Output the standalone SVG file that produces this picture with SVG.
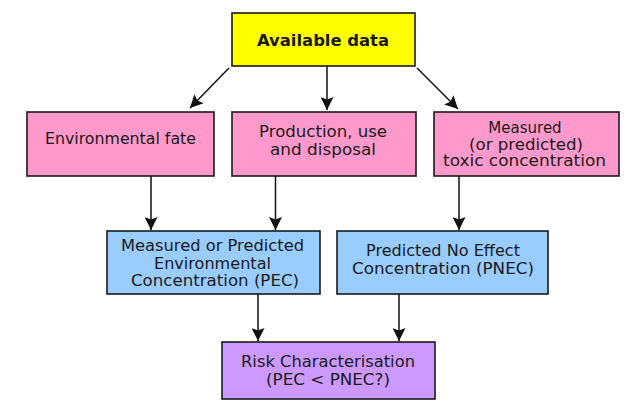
<svg xmlns="http://www.w3.org/2000/svg" width="624" height="401" viewBox="0 0 624 401">
<style>
.box{stroke:#1a1a1a;stroke-width:1.6}
.y{fill:#ffff00}
.p{fill:#ff99cc}
.b{fill:#99ccff}
.v{fill:#cc99ff}
text{font-family:"DejaVu Sans","Verdana",sans-serif;font-size:15px;fill:#1a1a1a;text-anchor:middle}
.bold{font-weight:bold;font-size:16px}
.conn line{stroke:#111;stroke-width:1.5;marker-end:url(#ah)}
</style>
<defs>
<marker id="ah" markerUnits="userSpaceOnUse" markerWidth="14" markerHeight="13" viewBox="0 0 14 13" refX="13" refY="6.5" orient="auto">
<path d="M0,0 L13,6.5 L0,13 L2.5,6.5 Z" fill="#111"/>
</marker>
</defs>
<rect width="624" height="401" fill="#ffffff"/>
<g id="available">
<rect class="box y" x="232" y="13" width="183" height="53"/>
<text class="bold" x="323" y="46" textLength="132" lengthAdjust="spacingAndGlyphs">Available data</text>
</g>
<g id="envfate">
<rect class="box p" x="27" y="112" width="187" height="64"/>
<text x="120.5" y="144" textLength="151" lengthAdjust="spacingAndGlyphs">Environmental fate</text>
</g>
<g id="production">
<rect class="box p" x="232" y="112" width="184" height="64"/>
<text x="323" y="137" textLength="128" lengthAdjust="spacingAndGlyphs">Production, use</text>
<text x="323" y="155" textLength="106" lengthAdjust="spacingAndGlyphs">and disposal</text>
</g>
<g id="toxic">
<rect class="box p" x="434" y="112" width="185" height="64"/>
<text x="525" y="133">Measured</text>
<text x="526" y="149.5" textLength="114" lengthAdjust="spacingAndGlyphs">(or predicted)</text>
<text x="524.5" y="166" textLength="163" lengthAdjust="spacingAndGlyphs">toxic  concentration</text>
</g>
<g id="pec">
<rect class="box b" x="107" y="231" width="213" height="63"/>
<text x="212.5" y="251" textLength="183" lengthAdjust="spacingAndGlyphs">Measured or Predicted</text>
<text x="212.5" y="269" textLength="117" lengthAdjust="spacingAndGlyphs">Environmental</text>
<text x="215" y="286" textLength="168" lengthAdjust="spacingAndGlyphs">Concentration (PEC)</text>
</g>
<g id="pnec">
<rect class="box b" x="337" y="231" width="211" height="63"/>
<text x="443" y="256" textLength="154" lengthAdjust="spacingAndGlyphs">Predicted No Effect</text>
<text x="443" y="274" textLength="182" lengthAdjust="spacingAndGlyphs">Concentration (PNEC)</text>
</g>
<g id="risk">
<rect class="box v" x="222" y="342" width="213" height="57"/>
<text x="328" y="367" textLength="174" lengthAdjust="spacingAndGlyphs">Risk Characterisation</text>
<text x="328" y="385" textLength="124" lengthAdjust="spacingAndGlyphs">(PEC &lt; PNEC?)</text>
</g>
<g id="connectors" class="conn">
<line x1="229" y1="68" x2="190" y2="108"/>
<line x1="327" y1="66" x2="327" y2="110"/>
<line x1="417" y1="68" x2="458" y2="109"/>
<line x1="151" y1="176" x2="151" y2="230"/>
<line x1="275.5" y1="176" x2="275.5" y2="230"/>
<line x1="459" y1="176" x2="459" y2="230"/>
<line x1="258" y1="294" x2="258" y2="341"/>
<line x1="399" y1="294" x2="399" y2="341"/>
</g>
</svg>
